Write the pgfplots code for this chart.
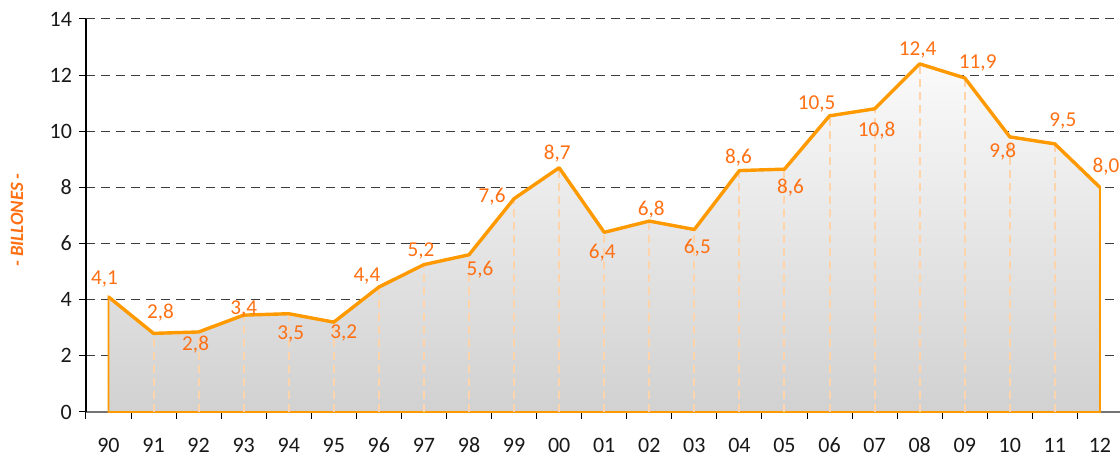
\documentclass[border=0pt]{standalone}
\usepackage{fontspec}
\setmainfont{Carlito}
\usepackage{pgfplots}
\pgfplotsset{compat=1.18}
\usepackage{pgfplotstable}
\definecolor{lineor}{RGB}{255,153,0}
\definecolor{labor}{RGB}{255,112,20}
\definecolor{dropor}{RGB}{255,212,170}
\definecolor{gridc}{RGB}{60,60,60}

\pgfplotstableread{
x y lab dx dy
0 4.1 4,1 -4 18
1 2.8 2,8 7 21
2 2.85 2,8 -3 -13
3 3.45 3,4 0 6
4 3.5 3,5 2 -20
5 3.2 3,2 10 -11
6 4.45 4,4 -12 11
7 5.25 5,2 -3 14
8 5.6 5,6 11 -15
9 7.6 7,6 -22 2
10 8.7 8,7 -2 14
11 6.4 6,4 -2 -20
12 6.8 6,8 2 11
13 6.5 6,5 3 -18
14 8.6 8,6 -1 13
15 8.65 8,6 6 -18
16 10.55 10,5 -13 12
17 10.8 10,8 2 -22
18 12.4 12,4 -2 14
19 11.9 11,9 13 15
20 9.8 9,8 -7 -15
21 9.55 9,5 8 23
22 8.0 8,0 6 21
}\data

\pgfplotstableread{
x y
1 2.8
2 2.85
3 3.45
4 3.5
5 3.2
6 4.45
7 5.25
8 5.6
9 7.6
10 8.7
11 6.4
12 6.8
13 6.5
14 8.6
15 8.65
16 10.55
17 10.8
18 12.4
19 11.9
20 9.8
21 9.55
}\inner

\begin{document}
\begin{tikzpicture}
\begin{axis}[
  scale only axis, width=517.3pt, height=196.6pt,
  xmin=-0.5, xmax=22.445, ymin=0, ymax=14,
  axis lines*=left,
  x axis line style={draw=black!55, line width=0.6pt},
  y axis line style={draw=black, line width=0.6pt},
  tick align=outside,
  xtick={-0.5,0.5,...,21.5},
  xticklabels={},
  extra x ticks={0,1,...,22},
  extra x tick labels={90,91,92,93,94,95,96,97,98,99,00,01,02,03,04,05,06,07,08,09,10,11,12},
  extra x tick style={major tick length=0pt, grid=none},
  xticklabel style={anchor=center, yshift=-16.5pt},
  ytick={0,2,...,14},
  major tick length=3.5pt,
  tick style={draw=black, line width=0.5pt},
  ymajorgrids,
  grid style={draw=gridc, line width=0.5pt, dash pattern=on 4.5pt off 3pt},
  /pgf/number format/assume math mode=true,
  ticklabel style={font=\fontsize{11}{13}\selectfont, text=black!90},
  ylabel={- BILLONES -},
  every axis y label/.style={at={(axis description cs:-0.0667,0.4885)}, rotate=90, anchor=center,
    font=\fontsize{9.4}{11}\selectfont\bfseries\itshape, text=labor},
  clip=false,
]
\coordinate (sw) at (rel axis cs:0,0);
\coordinate (ne) at (rel axis cs:1,1);
% filled area
\addplot[draw=lineor, line width=0.9pt, top color=black!2, middle color=black!6, bottom color=black!18]
  table[x=x,y=y]{\data} \closedcycle;
% drop lines
\addplot[ycomb, draw=dropor, line width=1pt, dash pattern=on 4pt off 2.5pt]
  table[x=x,y=y]{\inner};
% main line
\addplot[draw=lineor, line width=1.7pt, line join=round] table[x=x,y=y]{\data};
% labels
\addplot[draw=none, mark=none,
  point meta=explicit symbolic,
  visualization depends on={\thisrow{dx} \as \ldx},
  visualization depends on={\thisrow{dy} \as \ldy},
  nodes near coords,
  nodes near coords style={anchor=center, xshift=\ldx*0.5pt, yshift=\ldy*0.5pt,
    font=\fontsize{10.6}{12}\selectfont, text=labor, inner sep=0pt},
] table[x=x,y=y,meta=lab]{\data};
\end{axis}
\pgfresetboundingbox
\path ([shift={(-43pt,-23.5pt)}]sw) rectangle ([shift={(0pt,9.5pt)}]ne);
\end{tikzpicture}
\end{document}
